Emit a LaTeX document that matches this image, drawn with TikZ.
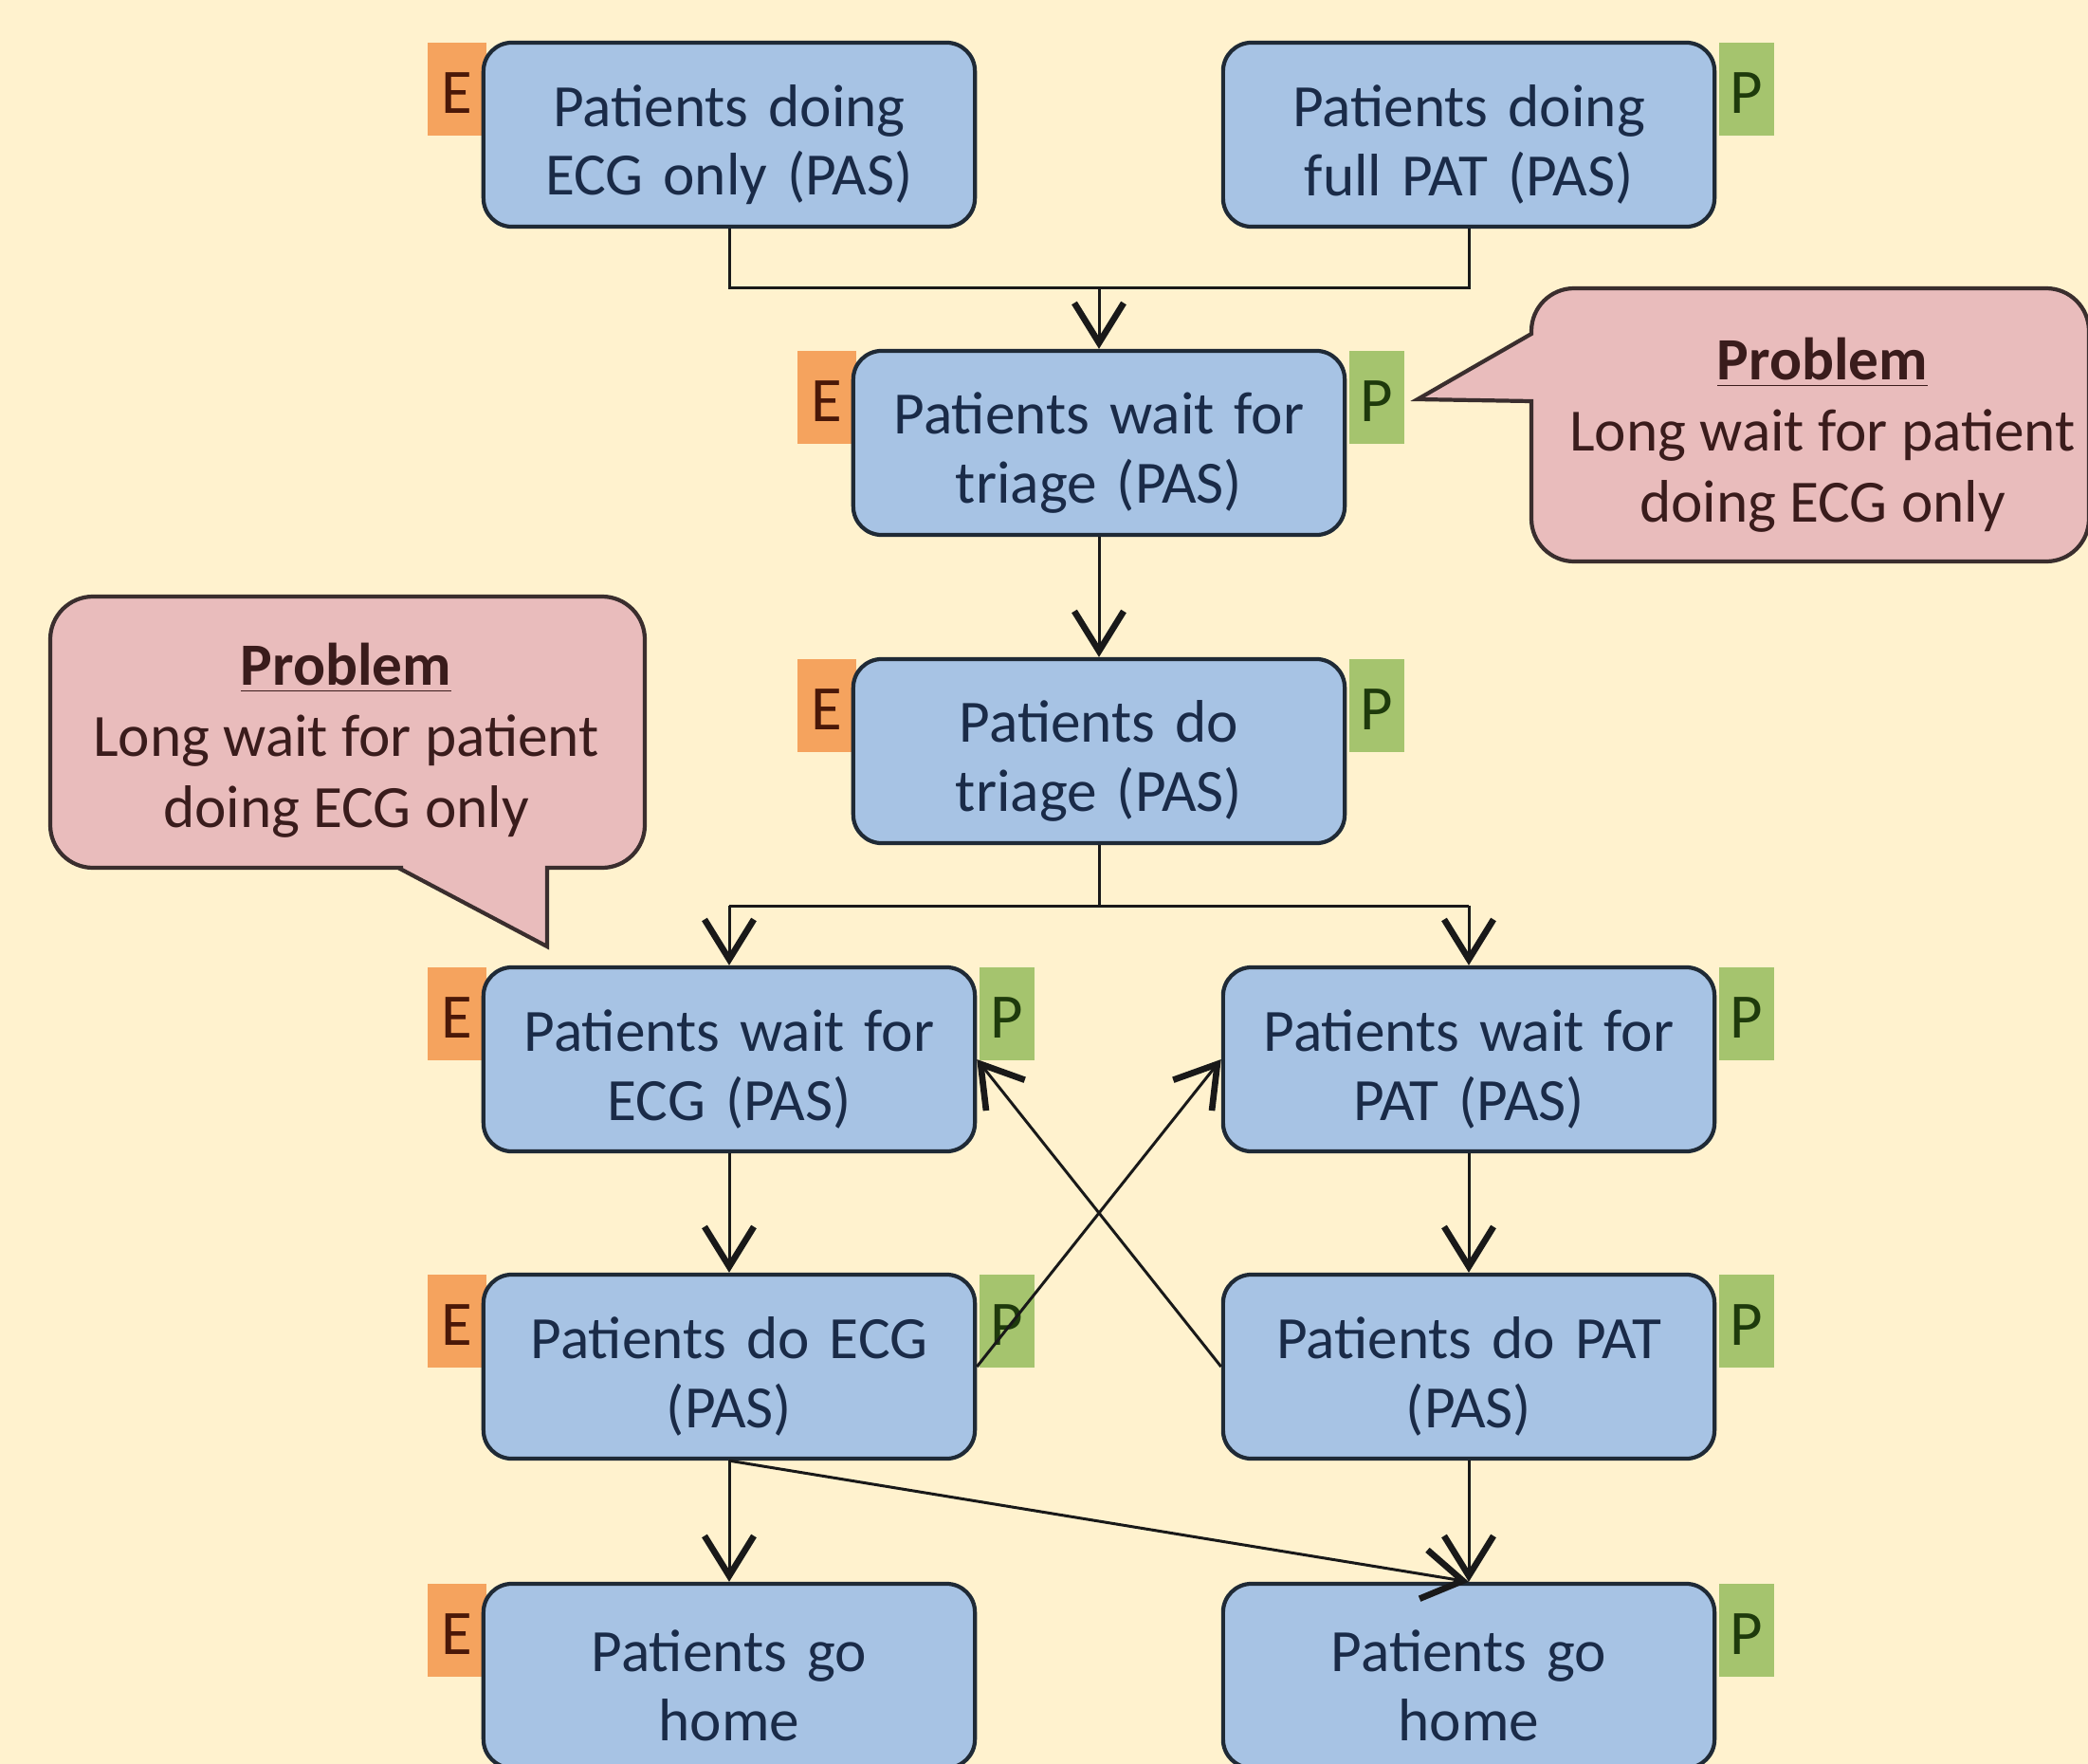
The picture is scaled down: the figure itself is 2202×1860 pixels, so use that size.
\documentclass[tikz,border=0pt]{standalone}
\usepackage{fontspec}
\setmainfont{Carlito}
\usetikzlibrary{arrows.meta}
\definecolor{bgc}{HTML}{FFF2CE}
\definecolor{boxfill}{HTML}{A7C3E4}
\definecolor{boxline}{HTML}{1F2A36}
\definecolor{boxtext}{HTML}{1A2B48}
\definecolor{efill}{HTML}{F5A35E}
\definecolor{etext}{HTML}{4A1808}
\definecolor{pfill}{HTML}{A5C46E}
\definecolor{ptext}{HTML}{1E3A0C}
\definecolor{cfill}{HTML}{E9BCBC}
\definecolor{cline}{HTML}{3A2E2E}
\definecolor{ctext}{HTML}{3A1C1C}
\pgfdeclarelayer{bglayer}
\pgfdeclarelayer{taglayer}
\pgfsetlayers{bglayer,taglayer,main}
\begin{document}
\begin{tikzpicture}[x=0.01cm,y=-0.01cm,
 flowbox/.style={draw=boxline, line width=1.2pt, fill=boxfill, rounded corners=0.3cm,
   minimum width=5.18cm, minimum height=1.94cm, text width=5cm, align=center,
   text=boxtext, font=\fontsize{18}{20.7}\selectfont, inner sep=0pt,
   execute at begin node={\rule{0pt}{18.5pt}}},
 etag/.style={fill=efill, text=etext, minimum width=0.62cm, minimum height=0.98cm,
   inner sep=0pt, font=\fontsize{19}{20}\selectfont, anchor=north east,
   text height=15pt, text depth=0pt},
 ptag/.style={fill=pfill, text=ptext, minimum width=0.58cm, minimum height=0.98cm,
   inner sep=0pt, font=\fontsize{19}{20}\selectfont, anchor=north west,
   text height=15pt, text depth=0pt},
 conn/.style={draw=black!90, line width=0.85pt},
 arr/.style={conn, -{Straight Barb[length=0.42cm,width=0.52cm,line width=1.9pt]}},
 callout/.style={draw=cline, line width=1.2pt, fill=cfill},
 ctxt/.style={text=ctext, align=center, font=\fontsize{18}{21.3}\selectfont, inner sep=0pt}
]
\begin{pgfonlayer}{bglayer}
\fill[bgc] (0,0) rectangle (2202,1860);
\end{pgfonlayer}
\useasboundingbox (0,0) rectangle (2202,1860);

% boxes
\node[flowbox] (b1) at (769,142) {Patients doing\\ECG only (PAS)};
\node[flowbox] (b2) at (1549,142) {Patients doing\\full PAT (PAS)};
\node[flowbox] (t1) at (1159,467) {Patients wait for\\triage (PAS)};
\node[flowbox] (t2) at (1159,792) {Patients do\\triage (PAS)};
\node[flowbox] (w1) at (769,1117) {Patients wait for\\ECG (PAS)};
\node[flowbox] (w2) at (1549,1117) {Patients wait for\\PAT (PAS)};
\node[flowbox] (d1) at (769,1441) {Patients do ECG\\(PAS)};
\node[flowbox] (d2) at (1549,1441) {Patients do PAT\\(PAS)};
\node[flowbox] (h1) at (769,1767) {Patients go\\home};
\node[flowbox] (h2) at (1549,1767) {Patients go\\home};

% tags
\begin{pgfonlayer}{taglayer}
\node[etag] (eb1) at ([xshift=0.06cm,yshift=-0.01cm]b1.north west) {E};
\node[ptag] (pb2) at ([xshift=0.02cm,yshift=-0.01cm]b2.north east) {P};
\node[etag] (et1) at ([xshift=0.06cm,yshift=-0.01cm]t1.north west) {E};
\node[ptag] (pt1) at ([xshift=0.02cm,yshift=-0.01cm]t1.north east) {P};
\node[etag] (et2) at ([xshift=0.06cm,yshift=-0.01cm]t2.north west) {E};
\node[ptag] (pt2) at ([xshift=0.02cm,yshift=-0.01cm]t2.north east) {P};
\node[etag] (ew1) at ([xshift=0.06cm,yshift=-0.01cm]w1.north west) {E};
\node[ptag] (pw1) at ([xshift=0.02cm,yshift=-0.01cm]w1.north east) {P};
\node[ptag] (pw2) at ([xshift=0.02cm,yshift=-0.01cm]w2.north east) {P};
\node[etag] (ed1) at ([xshift=0.06cm,yshift=-0.01cm]d1.north west) {E};
\node[ptag] (pd1) at ([xshift=0.02cm,yshift=-0.01cm]d1.north east) {P};
\node[ptag] (pd2) at ([xshift=0.02cm,yshift=-0.01cm]d2.north east) {P};
\node[etag] (eh1) at ([xshift=0.06cm,yshift=-0.01cm]h1.north west) {E};
\node[ptag] (ph2) at ([xshift=0.02cm,yshift=-0.01cm]h2.north east) {P};
\end{pgfonlayer}

% connectors
\coordinate (j0) at (1159,303);
\coordinate (j1) at (769,303);
\coordinate (j2) at (1549,303);
\draw[conn] (b1.south) -- (j1) -- (j2) -- (b2.south);
\draw[arr] (j0) -- (t1.north);
\draw[arr] (t1) -- (t2);
\coordinate (k0) at (1159,955);
\coordinate (k1) at (769,955);
\coordinate (k2) at (1549,955);
\draw[conn] (t2.south) -- (k0);
\draw[conn] (k1) -- (k2);
\draw[arr] (k1) -- (w1.north);
\draw[arr] (k2) -- (w2.north);
\draw[arr] (w1) -- (d1);
\draw[arr] (w2) -- (d2);
\draw[arr] (d1.east) -- (w2.west);
\draw[arr] (d2.west) -- (w1.east);
\draw[arr] (d1) -- (h1);
\draw[arr] (d2) -- (h2);
\draw[arr] (d1.south) -- (h2.north);

% callouts
\draw[callout] (420,915) -- (577,998) -- (577,915) -- (600,915)
  [rounded corners=0.45cm] -- (680,915) -- (680,629) -- (53,629) -- (53,915) -- (380,915)
  [sharp corners] -- cycle;
\node[ctxt] (c1) at (365,781) {\textbf{\underline{Problem}}\\Long wait for patient\\doing ECG only};

\draw[callout] (1615,423) -- (1495,421) -- (1615,352)
  [rounded corners=0.45cm] -- (1615,304) -- (2203,304) -- (2203,592) -- (1615,592) -- (1615,470)
  [sharp corners] -- cycle;
\node[ctxt] (c2) at (1922,459) {\textbf{\underline{Problem}}\\Long wait for patient\\doing ECG only};
\end{tikzpicture}
\end{document}
